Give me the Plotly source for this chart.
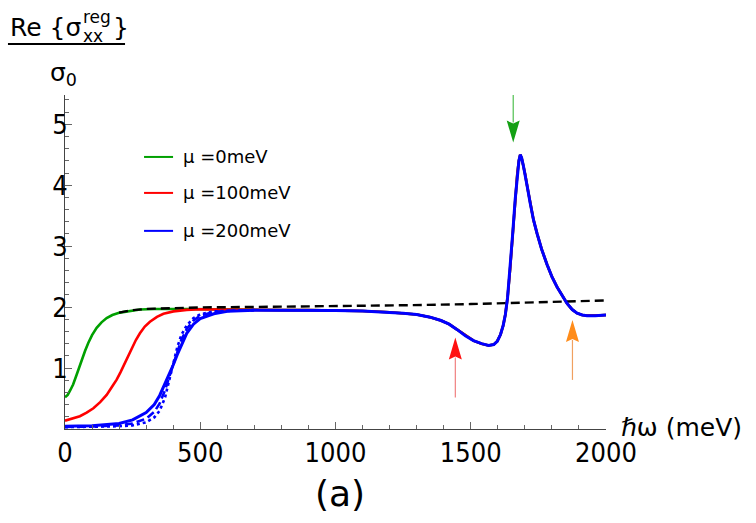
import plotly.graph_objects as go

# ---------------- data ----------------
omega_green = [0, 10, 20, 30, 43, 52, 62, 74, 86, 100, 117, 135, 154, 175, 203, 240, 277, 330, 381, 450, 550, 650, 700]
sigma_green = [0.52, 0.56, 0.64, 0.73, 0.89, 1.01, 1.14, 1.28, 1.41, 1.54, 1.66, 1.75, 1.82, 1.87, 1.91, 1.94, 1.96, 1.97, 1.975, 1.97, 1.965, 1.955, 1.95]

omega_red = [0, 30, 55, 80, 105, 130, 154, 175, 191, 205, 216, 232, 247, 262, 277, 295, 314, 340, 364, 401, 450, 500, 600, 700]
sigma_red = [0.136, 0.17, 0.21, 0.27, 0.34, 0.44, 0.56, 0.70, 0.81, 0.93, 1.03, 1.18, 1.33, 1.46, 1.57, 1.68, 1.76, 1.84, 1.89, 1.93, 1.955, 1.965, 1.96, 1.95]

omega_blue = [0, 100, 200, 250, 300, 330, 350, 370, 385, 400, 415, 430, 450, 475, 500, 550, 600, 700]
sigma_blue_solid = [0.045, 0.055, 0.09, 0.15, 0.27, 0.40, 0.55, 0.74, 0.90, 1.05, 1.22, 1.38, 1.57, 1.72, 1.81, 1.89, 1.93, 1.95]
sigma_blue_dashed = [0.035, 0.04, 0.06, 0.09, 0.17, 0.28, 0.42, 0.64, 0.85, 1.06, 1.28, 1.46, 1.64, 1.78, 1.86, 1.92, 1.94, 1.95]
sigma_blue_dotted = [0.03, 0.032, 0.045, 0.06, 0.11, 0.19, 0.30, 0.52, 0.78, 1.07, 1.34, 1.54, 1.70, 1.82, 1.88, 1.93, 1.94, 1.95]

# common high-frequency part shared by all three chemical potentials
omega_high = [800, 900, 1000, 1100, 1200, 1250, 1300, 1350, 1390, 1420, 1450, 1480, 1510, 1540, 1566,
              1585, 1598, 1610, 1620, 1628, 1636, 1645, 1655, 1664, 1672, 1678, 1683, 1688, 1694, 1701,
              1710, 1720, 1732, 1745, 1762, 1782, 1800, 1819, 1838, 1856, 1875, 1893, 1912, 1930, 1960, 2000]
sigma_high = [1.95, 1.95, 1.945, 1.935, 1.915, 1.90, 1.88, 1.835, 1.78, 1.72, 1.63, 1.53, 1.45, 1.40, 1.37,
              1.385, 1.44, 1.55, 1.70, 1.88, 2.15, 2.60, 3.20, 3.75, 4.18, 4.40, 4.50, 4.45, 4.33, 4.18,
              3.95, 3.70, 3.43, 3.21, 2.95, 2.70, 2.50, 2.33, 2.18, 2.06, 1.96, 1.90, 1.87, 1.86, 1.86, 1.87]

omega_ref = [200, 240, 300, 400, 500, 750, 1000, 1250, 1500, 1750, 2000]
sigma_ref = [1.91, 1.945, 1.97, 1.985, 1.995, 2.005, 2.015, 2.03, 2.05, 2.08, 2.11]

legend_labels = ["μ =0meV", "μ =100meV", "μ =200meV"]
x_tick_vals = [0, 500, 1000, 1500, 2000]
x_tick_text = ["0", "500", "1000", "1500", "2000"]
y_tick_vals = [1, 2, 3, 4, 5]
y_tick_text = ["1", "2", "3", "4", "5"]

# arrows: (omega of tip, sigma of tip, direction)
arrow_omega = [1443, 1657, 1876]
arrow_sigma = [1.50, 4.70, 1.79]
arrow_dir = ["up", "down", "up"]

# ---------------- styling ----------------
GREEN = "#00a000"
RED = "#ff0000"
BLUE = "#0000ff"
FONT = "DejaVu Sans"
TICK_FONT = "DejaVu Sans Condensed, DejaVu Sans"

W, H = 756, 523
L, R, T, B = 65, 150.3, 95, 93.7
PW, PH = W - L - R, H - T - B


def px(x):
    return (x - L) / PW


def py(y):
    return (H - B - y) / PH


fig = go.Figure()

fig.add_trace(go.Scatter(x=omega_green + omega_high, y=sigma_green + sigma_high, mode="lines",
                         line=dict(color=GREEN, width=2.6), showlegend=False))
fig.add_trace(go.Scatter(x=omega_red + omega_high, y=sigma_red + sigma_high, mode="lines",
                         line=dict(color=RED, width=2.6), showlegend=False))
fig.add_trace(go.Scatter(x=omega_ref, y=sigma_ref, mode="lines",
                         line=dict(color="black", width=2.4, dash="9px,5px"), showlegend=False))
fig.add_trace(go.Scatter(x=omega_blue, y=sigma_blue_dotted, mode="lines",
                         line=dict(color=BLUE, width=2.6, dash="3px,3px"), showlegend=False))
fig.add_trace(go.Scatter(x=omega_blue, y=sigma_blue_dashed, mode="lines",
                         line=dict(color=BLUE, width=2.6, dash="8px,4px"), showlegend=False))
fig.add_trace(go.Scatter(x=omega_blue + omega_high, y=sigma_blue_solid + sigma_high, mode="lines",
                         line=dict(color=BLUE, width=3), showlegend=False))

shapes = []
annotations = []

# arrows (pixel-sized, anchored at the tip in data coordinates; path y grows upward)
arrow_colors = [("#ff1010", "#f08080"), ("#14a014", "#50c050"), ("#ff8c1a", "#f0a060")]
arrow_len = [60, 50, 60]
for xo, yo, d, (hc, sc), ln in zip(arrow_omega, arrow_sigma, arrow_dir, arrow_colors, arrow_len):
    s = 1 if d == "up" else -1
    shapes.append(dict(type="path", xref="x", yref="y", xsizemode="pixel", ysizemode="pixel",
                       xanchor=xo, yanchor=yo,
                       path=f"M0,{-20*s} L0,{-ln*s}", line=dict(color=sc, width=1.2)))
    shapes.append(dict(type="path", xref="x", yref="y", xsizemode="pixel", ysizemode="pixel",
                       xanchor=xo, yanchor=yo,
                       path=f"M0,0 L-6.5,{-22*s} L0,{-19*s} L6.5,{-22*s} Z",
                       fillcolor=hc, line=dict(width=0)))

# legend
for i, (lab, col) in enumerate(zip(legend_labels, [GREEN, RED, BLUE])):
    yc = [157, 193, 231][i]
    shapes.append(dict(type="line", xref="paper", yref="paper", x0=px(144), x1=px(173),
                       y0=py(yc), y1=py(yc), line=dict(color=col, width=2)))
    annotations.append(dict(text=lab, xref="paper", yref="paper", x=px(181), y=py(yc),
                            xanchor="left", yanchor="middle", showarrow=False,
                            font=dict(family=FONT, size=18, color="black")))

# y-axis label as a fraction
lab_font = dict(family=FONT, size=25, color="black")
small_font = dict(family=FONT, size=17, color="black")
annotations += [
    dict(text="Re {σ", x=px(8), y=py(27), xanchor="left", yanchor="middle", font=lab_font),
    dict(text="reg", x=px(81), y=py(17), xanchor="left", yanchor="middle", font=small_font),
    dict(text="xx", x=px(81), y=py(36), xanchor="left", yanchor="middle", font=small_font),
    dict(text="}", x=px(111), y=py(27), xanchor="left", yanchor="middle", font=lab_font),
    dict(text="σ<sub>0</sub>", x=px(48), y=py(74), xanchor="left", yanchor="middle", font=lab_font),
    dict(text="ℏω (meV)", x=px(619), y=py(428), xanchor="left", yanchor="middle", font=lab_font),
    dict(text="(a)", x=px(340), y=py(494), xanchor="center", yanchor="middle",
         font=dict(family=FONT, size=36, color="black")),
]
for a in annotations:
    a.setdefault("xref", "paper")
    a.setdefault("yref", "paper")
    a.setdefault("showarrow", False)
shapes.append(dict(type="line", xref="paper", yref="paper", x0=px(8), x1=px(125),
                   y0=py(44), y1=py(44), line=dict(color="black", width=2)))

fig.update_layout(
    width=W, height=H,
    margin=dict(l=L, r=R, t=T, b=B, pad=0),
    paper_bgcolor="white", plot_bgcolor="white",
    shapes=shapes, annotations=annotations,
    showlegend=False,
    xaxis=dict(range=[0, 2000], showgrid=False, zeroline=False, showline=True,
               linecolor="#444", linewidth=1,
               tickmode="array", tickvals=x_tick_vals, ticktext=x_tick_text,
               ticks="inside", ticklen=7, tickcolor="#666", tickwidth=1,
               minor=dict(dtick=100, tick0=0, ticks="inside", ticklen=4, tickcolor="#666", tickwidth=1,
                          showgrid=False),
               tickfont=dict(family=TICK_FONT, size=27, color="black")),
    yaxis=dict(range=[0, 5.48], showgrid=False, zeroline=False, showline=True,
               linecolor="#444", linewidth=1,
               tickmode="array", tickvals=y_tick_vals, ticktext=y_tick_text,
               ticks="inside", ticklen=7, tickcolor="#666", tickwidth=1,
               ticklabelstandoff=-9,
               minor=dict(dtick=0.2, tick0=0, ticks="inside", ticklen=4, tickcolor="#666", tickwidth=1,
                          showgrid=False),
               tickfont=dict(family=TICK_FONT, size=27, color="black")),
)

fig.write_html("out.html")
